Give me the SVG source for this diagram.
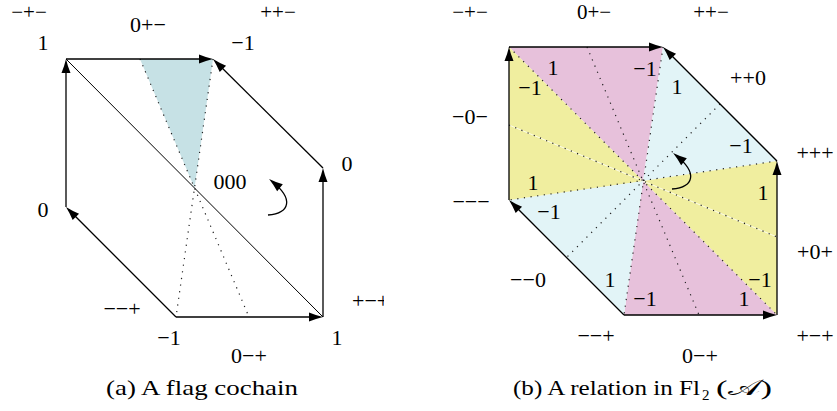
<svg xmlns="http://www.w3.org/2000/svg" width="837" height="411" viewBox="0 0 837 411">
<style>
  text { font-family: "Liberation Serif", "DejaVu Serif", serif; fill: #000; }
  .lab { font-size: 22px; text-anchor: middle; }
  .top { font-size: 21px; }
  .cap { font-size: 22px; }
  .edge { stroke: #000; stroke-width: 1.3; fill: none; marker-end: url(#ah); }
  .thin { stroke: #000; stroke-width: 1; fill: none; }
  .dot { stroke: #222; stroke-width: 1.2; fill: none; stroke-dasharray: 1.2 5.5; }
  .seam { stroke: #fff; stroke-width: 1; opacity: 0.75; fill: none; }
  .pink { fill: #E7C1DB; }
  .cyan { fill: #E2F4F7; }
  .yel { fill: #F0EE9F; }
  .lcyan { fill: #C6E1E5; }
</style>
<defs>
  <marker id="ah" markerUnits="userSpaceOnUse" viewBox="-15 -5 15 10" markerWidth="15" markerHeight="10" refX="-4" refY="0" orient="auto">
    <path d="M0,0 Q-7,-1.6 -14,-4.5 L-14,4.5 Q-7,1.6 0,0 z" fill="#000"/>
  </marker>
  <clipPath id="clipL"><rect x="0" y="0" width="384" height="411"/></clipPath>
</defs>

<!-- (a) A flag cochain -->
<g id="figA">
  <g id="figA-regions">
    <polygon class="lcyan" points="140,59 213,59 194.5,188"/>
    <line class="dot" x1="140" y1="59" x2="249" y2="317"/>
    <line class="dot" x1="213" y1="59" x2="176" y2="317"/>
    <line class="thin" x1="66" y1="59" x2="323" y2="317"/>
  </g>
  <g id="figA-labels">
    <text class="lab top" x="29" y="19">−+−</text>
    <text class="lab top" x="278" y="19">++−</text>
    <text class="lab" x="148" y="32">0+−</text>
    <text class="lab" x="43" y="50">1</text>
    <text class="lab" x="243" y="50">−1</text>
    <text class="lab" x="347" y="171">0</text>
    <text class="lab" x="230" y="189">000</text>
    <text class="lab" x="43" y="217">0</text>
    <text class="lab" x="122" y="316">−−+</text>
    <text class="lab" x="352" y="308" style="text-anchor:start" clip-path="url(#clipL)">+−+</text>
    <text class="lab" x="169" y="345">−1</text>
    <text class="lab" x="337" y="345">1</text>
    <text class="lab" x="249" y="363">0−+</text>
  </g>
  <text class="cap" x="106" y="395" textLength="192" lengthAdjust="spacingAndGlyphs">(a) A flag cochain</text>
</g>

<!-- (b) A relation -->
<g id="figB">
  <g id="figB-regions">
    <polygon class="pink" points="643,181 509,47 663,47"/>
    <polygon class="cyan" points="643,181 663,47 777,161"/>
    <polygon class="yel" points="643,181 777,161 777,315"/>
    <polygon class="pink" points="643,181 777,315 624,315"/>
    <polygon class="cyan" points="643,181 624,315 509,200"/>
    <polygon class="yel" points="643,181 509,200 509,47"/>
    <line class="seam" x1="509" y1="125" x2="777" y2="237"/>
    <line class="dot" x1="509" y1="47" x2="777" y2="315"/>
    <line class="dot" x1="663" y1="47" x2="624" y2="315"/>
    <line class="dot" x1="777" y1="161" x2="509" y2="200"/>
    <line class="dot" x1="587" y1="47" x2="699" y2="315"/>
    <line class="dot" x1="720" y1="104" x2="566" y2="258"/>
    <line class="dot" x1="509" y1="125" x2="777" y2="237"/>
  </g>
  <g id="figB-values">
    <text class="lab" x="553" y="75">1</text>
    <text class="lab" x="645" y="76">−1</text>
    <text class="lab" x="530" y="95">−1</text>
    <text class="lab" x="533" y="190">1</text>
    <text class="lab" x="677" y="94">1</text>
    <text class="lab" x="741" y="153">−1</text>
    <text class="lab" x="763" y="200">1</text>
    <text class="lab" x="760" y="287">−1</text>
    <text class="lab" x="645" y="306">−1</text>
    <text class="lab" x="744" y="306">1</text>
    <text class="lab" x="549" y="219">−1</text>
    <text class="lab" x="610" y="287">1</text>
  </g>
  <g id="figB-labels">
    <text class="lab top" x="470" y="19">−+−</text>
    <text class="lab top" x="594" y="19">0+−</text>
    <text class="lab top" x="711" y="19">++−</text>
    <text class="lab" x="748" y="85">++0</text>
    <text class="lab" x="470" y="124">−0−</text>
    <text class="lab" x="815" y="160">+++</text>
    <text class="lab" x="471" y="209">−−−</text>
    <text class="lab" x="815" y="259">+0+</text>
    <text class="lab" x="528" y="287">−−0</text>
    <text class="lab" x="596" y="343">−−+</text>
    <text class="lab" x="815" y="343">+−+</text>
    <text class="lab" x="700" y="363">0−+</text>
  </g>
  <text class="cap" x="513" y="395"><tspan textLength="187" lengthAdjust="spacingAndGlyphs">(b) A relation in Fl</tspan><tspan x="702" y="400" style="font-size:15px">2</tspan><tspan x="716" y="395" textLength="56" lengthAdjust="spacingAndGlyphs">(𝒜)</tspan></text>
</g>

<!-- connectors -->
<g id="connectors">
  <line class="edge" x1="66" y1="207" x2="66" y2="63"/>
  <line class="edge" x1="66" y1="59" x2="209" y2="59"/>
  <line class="edge" x1="323" y1="168" x2="215.8" y2="61.8"/>
  <line class="edge" x1="323" y1="317" x2="323" y2="172"/>
  <line class="edge" x1="176" y1="317" x2="319" y2="317"/>
  <line class="edge" x1="176" y1="317" x2="68.8" y2="209.8"/>
  <path class="edge" d="M268,215 C290,213 294,199 272.2,181.4"/>

  <line class="edge" x1="509" y1="200" x2="509" y2="51"/>
  <line class="edge" x1="509" y1="47" x2="659" y2="47"/>
  <line class="edge" x1="777" y1="161" x2="665.8" y2="49.8"/>
  <line class="edge" x1="777" y1="315" x2="777" y2="165"/>
  <line class="edge" x1="624" y1="315" x2="773" y2="315"/>
  <line class="edge" x1="624" y1="315" x2="511.8" y2="202.8"/>
  <path class="edge" d="M672,189 C694,187 698,173 676.2,155.4"/>
</g>
</svg>
